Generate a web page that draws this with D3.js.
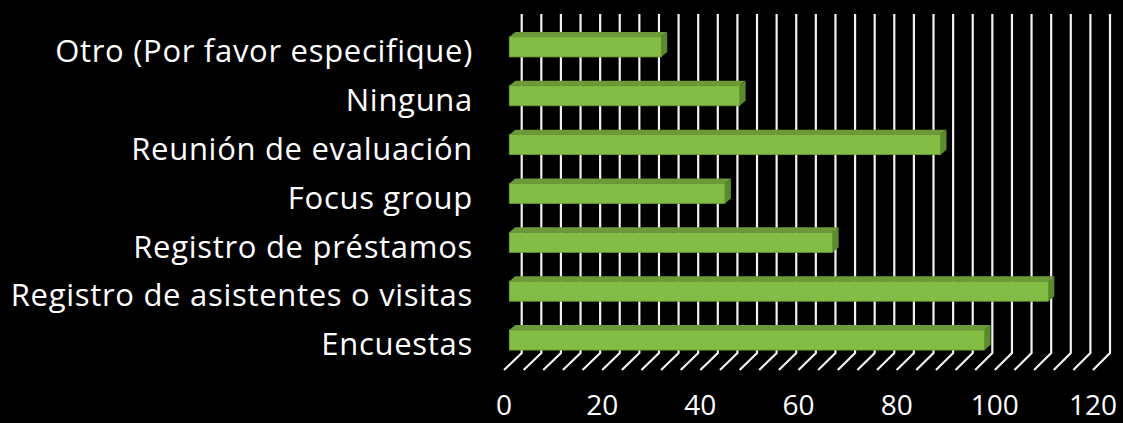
<!DOCTYPE html>
<html>
<head>
<meta charset="utf-8">
<script src="https://cdn.jsdelivr.net/npm/d3@7/dist/d3.min.js"></script>
<style>
  html, body { margin: 0; padding: 0; background: #000; }
  svg { display: block; }
  .cat-label, .tick-label {
    fill: #fff;
    font-family: 'Century Gothic', 'Open Sans', sans-serif;
  }
</style>
</head>
<body>
<svg id="chart" width="1123" height="423"></svg>
<script>
  // chart data, top to bottom as drawn
  var categories = [
    'Otro (Por favor especifique)',
    'Ninguna',
    'Reunión de evaluación',
    'Focus group',
    'Registro de préstamos',
    'Registro de asistentes o visitas',
    'Encuestas'
  ];
  var values = [31, 47, 88, 44, 66, 110, 97];
  var tickLabels = [0, 20, 40, 60, 80, 100, 120];
  var gridValues = d3.range(0, 121, 4);

  var svg = d3.select('#chart');
  var W = 1123, H = 423;

  svg.append('rect').attr('width', W).attr('height', H).attr('fill', '#000');

  // oblique 3D: back wall, floor front edge and bar front plane share one scale
  var wallTop = 14, wallBottom = 353, floorFront = 370;
  var xBack = d3.scaleLinear().domain([0, 120]).range([521.7, 1110]);
  var xFront = d3.scaleLinear().domain([0, 120]).range([504, 1093]);
  var xBar = d3.scaleLinear().domain([0, 120]).range([509.3, 1097.3]);
  var depth = { dx: 6, dy: -5 };

  var y = d3.scaleBand()
    .domain(categories)
    .range([22.5, 364.5])
    .paddingInner(0.59)
    .paddingOuter(0.295);

  // gridlines: up the back wall, then slanting across the floor
  var grid = svg.append('g').attr('class', 'grid');
  grid.selectAll('path')
    .data(gridValues)
    .enter().append('path')
      .attr('d', function(v) {
        return 'M' + xBack(v) + ',' + wallTop +
               'L' + xBack(v) + ',' + wallBottom +
               'L' + xFront(v) + ',' + floorFront;
      })
      .attr('fill', 'none')
      .attr('stroke', '#f2f2f2')
      .attr('stroke-width', 2.2)
      .attr('stroke-linejoin', 'miter');

  // bars
  var bars = svg.append('g').attr('class', 'bars');
  var bar = bars.selectAll('g')
    .data(values)
    .enter().append('g');

  function yTop(d, i) { return y(categories[i]); }

  // top face
  bar.append('path')
    .attr('d', function(d, i) {
      var x0 = xBar(0), x1 = xBar(d), t = yTop(d, i);
      return 'M' + x0 + ',' + t +
             'L' + (x0 + depth.dx) + ',' + (t + depth.dy) +
             'L' + (x1 + depth.dx) + ',' + (t + depth.dy) +
             'L' + x1 + ',' + t + 'Z';
    })
    .attr('fill', '#6c9a39');

  // side face
  bar.append('path')
    .attr('d', function(d, i) {
      var x1 = xBar(d), t = yTop(d, i), b = t + y.bandwidth();
      return 'M' + x1 + ',' + t +
             'L' + (x1 + depth.dx) + ',' + (t + depth.dy) +
             'L' + (x1 + depth.dx) + ',' + (b + depth.dy) +
             'L' + x1 + ',' + b + 'Z';
    })
    .attr('fill', '#5b8a2d');

  // front face
  bar.append('rect')
    .attr('x', xBar(0))
    .attr('y', function(d, i) { return yTop(d, i); })
    .attr('width', function(d) { return xBar(d) - xBar(0); })
    .attr('height', y.bandwidth())
    .attr('fill', '#83bd45')
    .attr('stroke', '#6a9a38')
    .attr('stroke-width', 0.8);

  // category labels
  svg.append('g').selectAll('text')
    .data(categories)
    .enter().append('text')
      .attr('class', 'cat-label')
      .attr('x', 473)
      .attr('y', function(c) { return y(c) + y.bandwidth() / 2; })
      .attr('dy', '0.49em')
      .attr('text-anchor', 'end')
      .attr('font-size', 31)
      .attr('letter-spacing', 0.7)
      .text(function(c) { return c; });

  // value axis labels on the floor front edge
  svg.append('g').selectAll('text')
    .data(tickLabels)
    .enter().append('text')
      .attr('class', 'tick-label')
      .attr('x', function(v) { return xFront(v); })
      .attr('y', 415)
      .attr('text-anchor', 'middle')
      .attr('font-size', 28)
      .text(function(v) { return v; });
</script>
</body>
</html>
